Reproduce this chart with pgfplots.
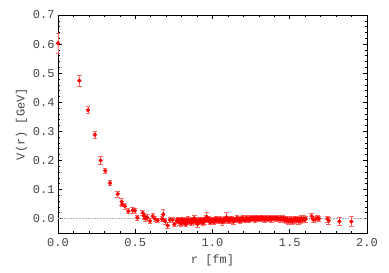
\documentclass[border=0pt]{standalone}
\usepackage{fontspec}
\setmainfont{Liberation Mono}
\usepackage{pgfplots}
\pgfplotsset{compat=1.18}
\definecolor{txt}{RGB}{70,70,70}
\definecolor{ebar}{RGB}{255,100,100}
\begin{document}
\begin{tikzpicture}
\begin{axis}[
  scale only axis, width=309pt, height=218pt,
  xmin=0, xmax=2.0, ymin=-0.05, ymax=0.7,
  xtick={0,0.5,1.0,1.5,2.0},
  xticklabels={0.0,0.5,1.0,1.5,2.0},
  ytick={0,0.1,0.2,0.3,0.4,0.5,0.6,0.7},
  yticklabels={0.0,0.1,0.2,0.3,0.4,0.5,0.6,0.7},
  minor x tick num=4, minor y tick num=4,
  tick align=inside, tick pos=both,
  major tick length=4pt, minor tick length=2pt,
  every tick/.style={black, line width=0.5pt},
  axis line style={black, line width=0.7pt},
  tick label style={font=\fontsize{12}{13}\selectfont, text=txt},
  label style={font=\fontsize{12}{13}\selectfont, text=txt},
  xticklabel style={yshift=-2pt},
  xlabel={r [fm]}, ylabel={V(r) [GeV]},
  xlabel style={yshift=-1pt}, ylabel style={yshift=-1pt},
  /pgf/number format/assume math mode=true,
  clip=false,
]
\coordinate (SW) at (rel axis cs:0,0);
\coordinate (NE) at (rel axis cs:1,1);
\addplot[gray!60, densely dotted, line width=0.5pt, forget plot] coordinates {(0,0) (2,0)};
\addplot[only marks, mark=*, mark size=1.9pt, color=red,
  error bars/.cd, y dir=both, y explicit,
  error bar style={ebar, line width=0.7pt},
  error mark options={ebar, line width=0.7pt, mark size=2.2pt, rotate=90}]
table[x index=0, y index=1, y error index=2] {
0.000 0.603 0.034
0.138 0.474 0.020
0.194 0.373 0.012
0.239 0.288 0.011
0.276 0.200 0.015
0.306 0.164 0.010
0.337 0.122 0.009
0.386 0.084 0.010
0.412 0.058 0.012
0.416 0.049 0.009
0.434 0.042 0.009
0.455 0.025 0.009
0.483 0.028 0.010
0.498 0.027 0.009
0.513 0.003 0.008
0.548 0.019 0.010
0.556 0.008 0.011
0.565 0.000 0.010
0.578 0.003 0.010
0.595 -0.009 0.008
0.613 0.008 0.009
0.628 -0.002 0.008
0.645 -0.006 0.008
0.673 -0.002 0.009
0.681 0.014 0.017
0.692 -0.009 0.010
0.710 -0.024 0.010
0.725 -0.005 0.008
0.742 -0.005 0.009
0.753 -0.020 0.008
0.768 -0.008 0.008
0.775 -0.004 0.008
0.783 -0.014 0.009
0.790 -0.006 0.008
0.797 -0.017 0.009
0.803 -0.003 0.008
0.810 -0.010 0.009
0.817 -0.015 0.010
0.823 -0.005 0.008
0.830 -0.019 0.009
0.837 -0.008 0.008
0.843 -0.002 0.009
0.850 -0.011 0.008
0.857 -0.006 0.008
0.863 -0.016 0.009
0.870 -0.004 0.008
0.877 -0.009 0.008
0.883 0.001 0.009
0.890 -0.012 0.009
0.897 -0.007 0.008
0.903 -0.020 0.010
0.910 -0.005 0.009
0.917 -0.012 0.008
0.923 -0.003 0.008
0.930 -0.008 0.009
0.937 -0.015 0.008
0.943 -0.004 0.008
0.950 -0.010 0.009
0.957 0.002 0.010
0.963 0.005 0.015
0.970 -0.006 0.009
0.977 -0.002 0.008
0.983 -0.013 0.008
0.990 -0.005 0.009
0.997 -0.009 0.008
1.003 -0.003 0.008
1.010 -0.011 0.009
1.017 -0.006 0.008
1.023 0.000 0.008
1.030 -0.008 0.009
1.037 -0.004 0.008
1.043 -0.010 0.008
1.050 -0.002 0.009
1.057 -0.007 0.008
1.063 -0.013 0.009
1.070 -0.003 0.008
1.077 -0.008 0.008
1.083 -0.001 0.009
1.090 0.004 0.016
1.097 -0.005 0.008
1.103 -0.009 0.008
1.110 -0.002 0.008
1.117 -0.007 0.009
1.123 0.000 0.008
1.130 -0.004 0.008
1.137 -0.010 0.009
1.143 -0.003 0.008
1.150 -0.007 0.008
1.157 0.001 0.009
1.163 -0.005 0.008
1.170 -0.002 0.008
1.177 -0.008 0.009
1.183 -0.001 0.008
1.190 -0.004 0.008
1.197 0.003 0.009
1.203 -0.003 0.008
1.210 -0.007 0.008
1.217 0.002 0.009
1.223 -0.004 0.008
1.230 -0.001 0.008
1.237 -0.006 0.009
1.243 0.001 0.008
1.250 -0.003 0.008
1.257 0.003 0.009
1.263 -0.002 0.008
1.270 0.002 0.008
1.277 -0.004 0.009
1.283 0.004 0.008
1.290 0.000 0.008
1.297 -0.003 0.008
1.303 0.003 0.009
1.310 -0.001 0.008
1.317 0.004 0.008
1.323 -0.002 0.009
1.330 0.001 0.008
1.337 -0.004 0.008
1.343 0.002 0.009
1.350 0.000 0.008
1.357 -0.003 0.008
1.363 0.002 0.009
1.370 -0.001 0.008
1.377 0.003 0.008
1.383 -0.003 0.009
1.390 0.000 0.008
1.397 0.003 0.008
1.403 -0.001 0.009
1.410 0.002 0.008
1.417 -0.002 0.008
1.423 0.002 0.009
1.430 0.000 0.008
1.437 -0.004 0.009
1.443 0.001 0.008
1.450 -0.003 0.009
1.457 0.002 0.008
1.463 -0.005 0.009
1.470 0.000 0.008
1.477 -0.007 0.009
1.483 -0.002 0.008
1.490 -0.009 0.010
1.497 -0.003 0.009
1.503 -0.008 0.009
1.510 -0.001 0.008
1.517 -0.010 0.010
1.523 -0.003 0.009
1.530 -0.007 0.009
1.537 0.000 0.008
1.543 -0.006 0.009
1.550 -0.002 0.009
1.557 -0.009 0.010
1.563 -0.003 0.009
1.570 -0.007 0.009
1.577 0.001 0.009
1.583 -0.004 0.009
1.590 -0.001 0.010
1.597 -0.005 0.010
1.603 -0.002 0.010
1.642 0.008 0.009
1.652 -0.004 0.010
1.663 -0.003 0.010
1.680 0.002 0.009
1.689 -0.001 0.009
1.745 -0.002 0.010
1.752 -0.007 0.012
1.821 -0.010 0.014
1.899 -0.011 0.017
};
\end{axis}
\pgfresetboundingbox
\path ([shift={(-58pt,-40pt)}]SW) rectangle ([shift={(22pt,15pt)}]NE);
\end{tikzpicture}
\end{document}
